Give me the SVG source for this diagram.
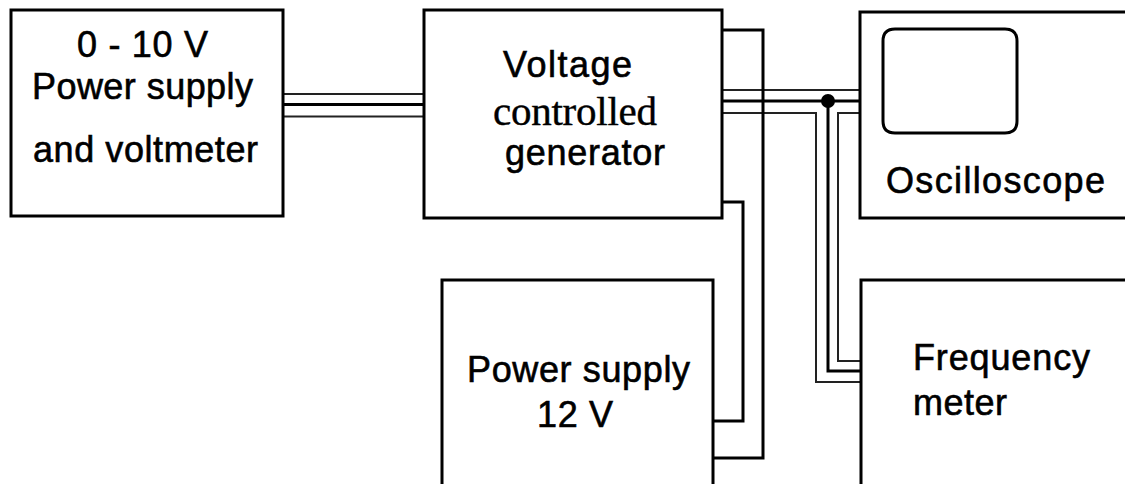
<svg xmlns="http://www.w3.org/2000/svg" width="1125" height="484" viewBox="0 0 1125 484">
<style>
.box{fill:#fff;stroke:#000;stroke-width:3}
.w{fill:none;stroke:#000;stroke-width:3}
.t{fill:none;stroke:#222;stroke-width:2}
.s{font-family:"Liberation Sans",Arial,sans-serif;font-size:36px;fill:#000;stroke:#000;stroke-width:0.6}
.r{font-family:"Liberation Serif","Times New Roman",serif;font-size:41px;fill:#000;stroke:#000;stroke-width:0.4}
</style>
<rect width="1125" height="484" fill="#fff"/>
<g id="connectors">
<line class="t" x1="283" y1="94" x2="424" y2="94"/>
<line class="w" x1="283" y1="104.5" x2="424" y2="104.5"/>
<line class="t" x1="283" y1="116.5" x2="424" y2="116.5"/>
<line class="t" x1="722" y1="90" x2="860" y2="90"/>
<line class="w" x1="722" y1="101" x2="860" y2="101"/>
<polyline class="t" points="722,113 816,113 816,382 860,382"/>
<polyline class="w" points="828,101 828,371 860,371"/>
<polyline class="t" points="860,113 838,113 838,361 860,361"/>
<circle cx="828" cy="101" r="7" fill="#000"/>
<polyline class="w" points="722,30 763,30 763,458 713,458"/>
<polyline class="w" points="722,202 743,202 743,421 713,421"/>
</g>
<g id="node-supply-0-10">
<rect class="box" x="11" y="10" width="272" height="206"/>
<text class="s" x="77" y="57" textLength="131" lengthAdjust="spacing">0 - 10 V</text>
<text class="s" x="32" y="99" textLength="221" lengthAdjust="spacing">Power supply</text>
<text class="s" x="33" y="162" textLength="225" lengthAdjust="spacing">and voltmeter</text>
</g>
<g id="node-vcg">
<rect class="box" x="424" y="10" width="298" height="208"/>
<text class="s" x="503" y="77" textLength="129" lengthAdjust="spacing">Voltage</text>
<text class="r" x="493" y="125" textLength="164" lengthAdjust="spacing">controlled</text>
<text class="s" x="505" y="165" textLength="160" lengthAdjust="spacing">generator</text>
</g>
<g id="node-oscilloscope">
<rect class="box" x="860" y="12" width="280" height="206"/>
<path class="w" d="M895,29 H1005 Q1017,29 1017,41 V121 Q1017,133 1005,133 H895 Q883,133 883,121 V41 Q883,29 895,29 Z"/>
<text class="s" x="886" y="193" textLength="219" lengthAdjust="spacing">Oscilloscope</text>
</g>
<g id="node-supply-12">
<rect class="box" x="442" y="280" width="271" height="220"/>
<text class="s" x="467" y="382" textLength="223" lengthAdjust="spacing">Power supply</text>
<text class="s" x="537" y="427" textLength="76" lengthAdjust="spacing">12 V</text>
</g>
<g id="node-frequency">
<rect class="box" x="861" y="280" width="280" height="220"/>
<text class="s" x="913" y="370" textLength="177" lengthAdjust="spacing">Frequency</text>
<text class="s" x="913" y="415" textLength="94" lengthAdjust="spacing">meter</text>
</g>
</svg>
